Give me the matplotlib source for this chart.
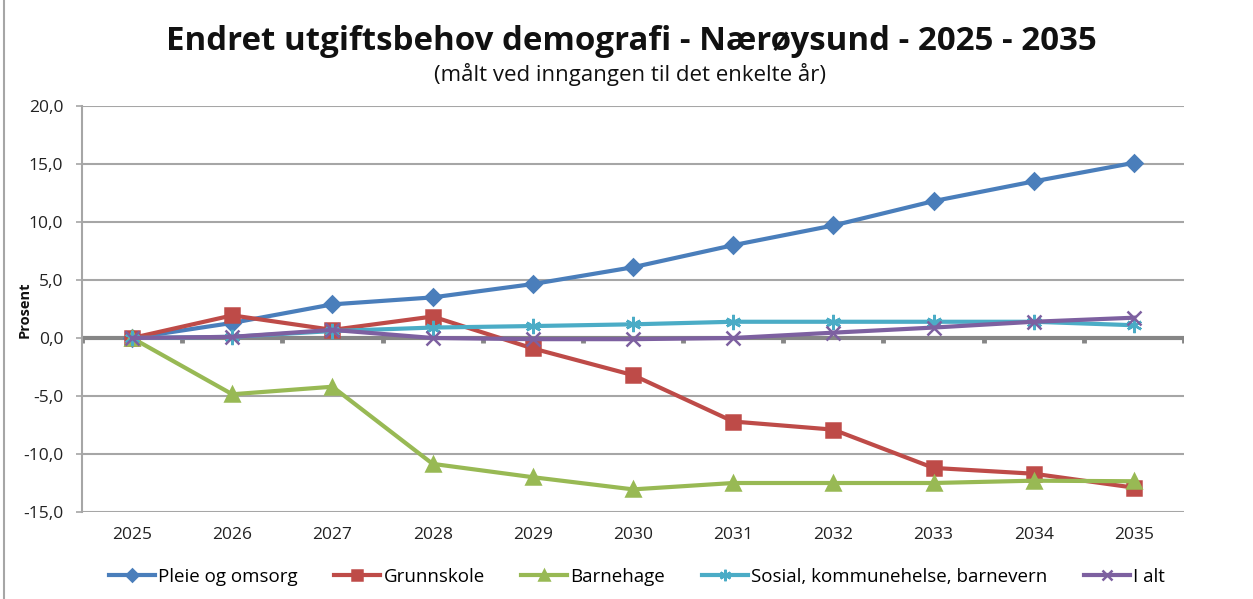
import matplotlib
matplotlib.use("Agg")
import matplotlib.pyplot as plt
from matplotlib.ticker import FuncFormatter

years = [2025, 2026, 2027, 2028, 2029, 2030, 2031, 2032, 2033, 2034, 2035]
pleie = [0.0, 1.3, 2.9, 3.5, 4.65, 6.1, 8.0, 9.7, 11.8, 13.5, 15.1]
grunnskole = [0.0, 1.95, 0.7, 1.85, -0.9, -3.2, -7.2, -7.9, -11.2, -11.7, -12.9]
barnehage = [0.0, -4.85, -4.2, -10.85, -12.0, -13.05, -12.5, -12.5, -12.5, -12.3, -12.35]
sosial = [0.0, 0.1, 0.6, 0.9, 1.03, 1.18, 1.4, 1.4, 1.4, 1.4, 1.1]
i_alt = [0.0, 0.1, 0.7, 0.0, -0.1, -0.1, 0.0, 0.46, 0.9, 1.4, 1.75]

series = [
    ("Pleie og omsorg", pleie, "#4A7EBB", "D", 8),
    ("Grunnskole", grunnskole, "#BE4B48", "s", 10),
    ("Barnehage", barnehage, "#98B954", "^", 10),
    ("Sosial, kommunehelse, barnevern", sosial, "#4BACC6", (6, 2, 0), 11),
    ("I alt", i_alt, "#7D60A0", "x", 10),
]

plt.rcParams['font.family'] = ['Open Sans', 'DejaVu Sans']

fig = plt.figure(figsize=(12.53, 5.99), dpi=100)
ax = fig.add_axes([82/1253, 1-512/599, (1184-82)/1253, (512-106)/599])

x = list(range(len(years)))
ax.set_xlim(-0.5, len(years)-0.5)
ax.set_ylim(-15, 20)
ax.set_yticks([-15, -10, -5, 0, 5, 10, 15, 20])
ax.yaxis.set_major_formatter(FuncFormatter(lambda v, p: f"{v:.1f}".replace('.', ',')))
ax.grid(axis='y', color='#A6A6A6', lw=1.5, zorder=0)
ax.set_axisbelow(True)
ax.set_xticks(x)
ax.set_xticklabels([str(y) for y in years])
ax.tick_params(axis='x', length=0, pad=11, labelsize=12.5, colors='#222222')
ax.tick_params(axis='y', length=4.5, width=1.2, color='#A6A6A6', labelsize=12.5,
               colors='#222222', pad=9)
for s in ['top', 'right', 'bottom']:
    ax.spines[s].set_visible(False)
ax.spines['left'].set_color('#A6A6A6')
ax.spines['left'].set_linewidth(1.5)

# zero axis line with category tick marks
ax.axhline(0, color='#868686', lw=3, zorder=1)
ax.vlines([i - 0.5 for i in range(len(years)+1)], -0.45, 0, color='#868686', lw=3.5, zorder=1)

for name, vals, col, mk, ms in series:
    ax.plot(x, vals, color=col, lw=3, marker=mk, markersize=ms, markeredgecolor=col,
            markerfacecolor=col, markeredgewidth=1.8, label=name, zorder=3)

fig.text(631/1253, 1-41/599, "Endret utgiftsbehov demografi - Nærøysund - 2025 - 2035",
         ha='center', va='center', fontsize=23.8, fontweight='bold', color='#111111')
fig.text(630/1253, 1-74/599, "(målt ved inngangen til det enkelte år)",
         ha='center', va='center', fontsize=16, color='#111111')
fig.text(25/1253, 1-310/599, "Prosent", rotation=90, ha='center', va='center',
         fontsize=10.5, fontweight='bold', color='#111111')

leg = fig.legend(loc='center left', bbox_to_anchor=(109/1253, 1-577/599), ncol=5, frameon=False,
                 fontsize=13.5, handlelength=2.45, columnspacing=1.95, handletextpad=0.17,
                 markerscale=0.75, borderpad=0, borderaxespad=0)

fig.add_artist(plt.Line2D([4/1253, 4/1253], [0, 1], color='#A6A6A6', lw=1.5))

fig.savefig("out.png", dpi=100, facecolor='white')
